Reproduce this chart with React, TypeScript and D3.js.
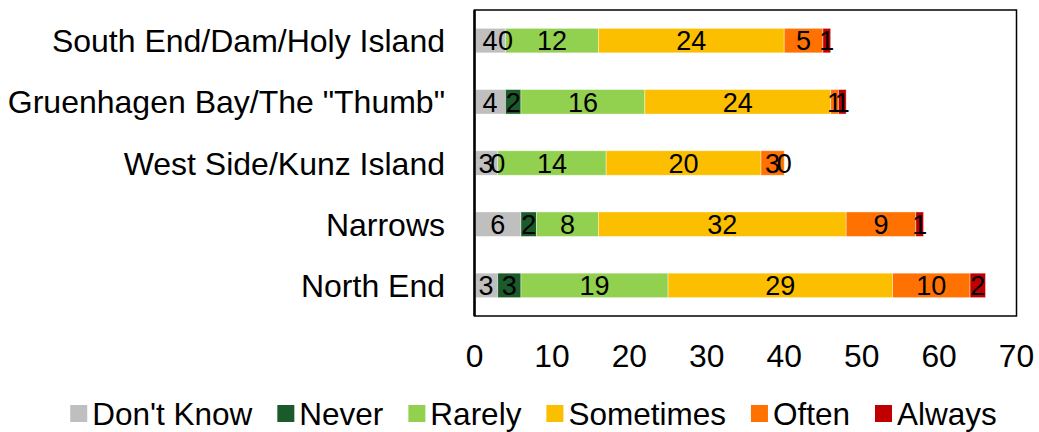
import React, { useEffect, useRef } from "react";
import * as d3 from "d3";

const categories = [
  "South End/Dam/Holy Island",
  "Gruenhagen Bay/The \"Thumb\"",
  "West Side/Kunz Island",
  "Narrows",
  "North End",
];
const seriesNames = ["Don't Know", "Never", "Rarely", "Sometimes", "Often", "Always"];
const seriesColors = ["#BFBFBF", "#1B5A2A", "#92D050", "#FBBF00", "#FF7100", "#C00000"];
const dontKnow = [4, 4, 3, 6, 3];
const never = [0, 2, 0, 2, 3];
const rarely = [12, 16, 14, 8, 19];
const sometimes = [24, 24, 20, 32, 29];
const often = [5, 1, 3, 9, 10];
const always = [1, 1, 0, 1, 2];
const xTicks = [0, 10, 20, 30, 40, 50, 60, 70];

const W = 1039;
const H = 432;
const FONT = "'Liberation Sans', Arial, sans-serif";

export default function App() {
  const ref = useRef<SVGSVGElement>(null);

  useEffect(() => {
    const svg = d3.select(ref.current);
    svg.selectAll("*").remove();

    const left = 474.5, right = 1016.5, top = 10, bottom = 316;
    const x = d3.scaleLinear().domain([0, 70]).range([left, right]);
    const y = d3.scaleBand().domain(categories).range([top, bottom]).paddingInner(0.6).paddingOuter(0.3);

    const allSeries = [dontKnow, never, rarely, sometimes, often, always];
    const rows = categories.map((c, i) => {
      const o: any = { cat: c };
      seriesNames.forEach((s, j) => (o[s] = allSeries[j][i]));
      return o;
    });
    const stacked = d3.stack().keys(seriesNames)(rows);

    svg.append("rect").attr("x", left).attr("y", top).attr("width", right - left).attr("height", bottom - top)
      .attr("fill", "none").attr("stroke", "#000").attr("stroke-width", 1.5);

    const g = svg.append("g");
    stacked.forEach((layer, j) => {
      g.selectAll(null).data(layer).enter().append("rect")
        .attr("x", (d: any) => x(d[0]))
        .attr("y", (d: any) => y(d.data.cat)!)
        .attr("width", (d: any) => x(d[1]) - x(d[0]))
        .attr("height", y.bandwidth())
        .attr("fill", seriesColors[j])
        .attr("stroke", "#fff").attr("stroke-opacity", 0.5).attr("stroke-width", 0.8);
    });
    stacked.forEach((layer) => {
      g.selectAll(null).data(layer).enter().append("text")
        .attr("x", (d: any) => x((d[0] + d[1]) / 2))
        .attr("y", (d: any) => y(d.data.cat)! + y.bandwidth() / 2)
        .attr("dy", "0.36em")
        .attr("text-anchor", "middle")
        .attr("font-family", FONT).attr("font-size", 27).attr("fill", "#000")
        .text((d: any) => String(d[1] - d[0]));
    });

    svg.append("line").attr("x1", left).attr("x2", left).attr("y1", top).attr("y2", bottom)
      .attr("stroke", "#000").attr("stroke-width", 2.5);

    svg.selectAll(null).data(categories).enter().append("text")
      .attr("x", 445).attr("y", (d) => y(d)! + y.bandwidth() / 2).attr("dy", "0.36em")
      .attr("text-anchor", "end").attr("font-family", FONT).attr("font-size", 32).attr("fill", "#000")
      .text((d) => d);

    svg.selectAll(null).data(xTicks).enter().append("text")
      .attr("x", (d) => x(d)).attr("y", 367)
      .attr("text-anchor", "middle").attr("font-family", FONT).attr("font-size", 31.8).attr("fill", "#000")
      .text((d) => String(d));

    const lg = svg.append("g");
    const sq = 17, gapT = 5, gapItem = 25;
    const items: { w: number; name: string; color: string }[] = [];
    seriesNames.forEach((n, j) => {
      const t = lg.append("text").attr("font-family", FONT).attr("font-size", 31.5).text(n);
      const w = (t.node() as SVGTextElement).getComputedTextLength();
      t.remove();
      items.push({ w, name: n, color: seriesColors[j] });
    });
    const total = items.reduce((a, it) => a + sq + gapT + it.w, 0) + gapItem * (items.length - 1);
    let cx = 533.5 - total / 2;
    items.forEach((it) => {
      lg.append("rect").attr("x", cx).attr("y", 405).attr("width", sq).attr("height", sq).attr("fill", it.color);
      lg.append("text").attr("x", cx + sq + gapT).attr("y", 425)
        .attr("font-family", FONT).attr("font-size", 31.5).attr("fill", "#000").text(it.name);
      cx += sq + gapT + it.w + gapItem;
    });
  }, []);

  return (
    <svg ref={ref} width={W} height={H} style={{ position: "absolute", left: 0, top: 0, background: "#fff" }} />
  );
}
